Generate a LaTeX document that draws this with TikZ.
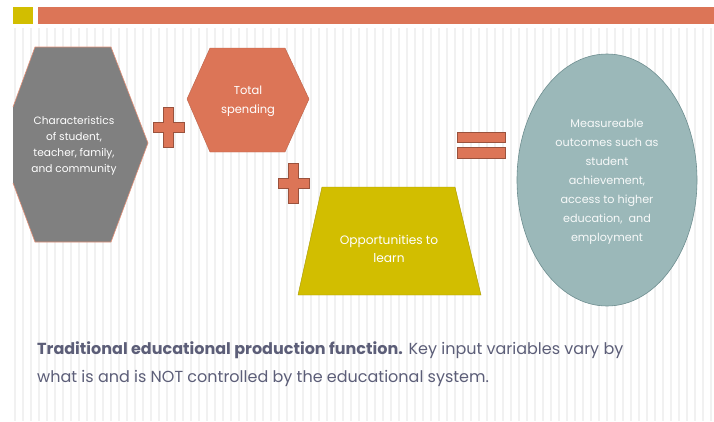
\documentclass[tikz,border=0pt]{standalone}
\usepackage{fontspec}
\setmainfont{Poppins}
\definecolor{barorange}{HTML}{DC7557}
\definecolor{baryellow}{HTML}{D2BE00}
\definecolor{hexgray}{HTML}{808080}
\definecolor{ovalteal}{HTML}{9BB8B9}
\definecolor{ovalline}{HTML}{6E8E90}
\definecolor{captext}{HTML}{5C5E78}
\definecolor{stripe}{HTML}{F1F1F1}
\tikzset{shapetext/.style={text=white, align=center, font=\fontsize{10.6}{15.8}\selectfont, inner sep=0pt}}
\begin{document}
\begin{tikzpicture}[x=1pt,y=-1pt]
\useasboundingbox (0,0) rectangle (714,421);
\fill[white] (0,0) rectangle (714,421);
\foreach \x in {15,23,...,711} \draw[color=stripe,line width=1.2pt](\x,28) -- (\x,421);
% title bar
\fill[baryellow] (13,7) rectangle (33,24);
\fill[barorange] (38,7) rectangle (714,24);
% input shapes
\filldraw[fill=hexgray,draw=barorange!80,line width=0.6pt] (13,107) -- (35,47) -- (111,47) -- (148,143) -- (111,242) -- (35,242) -- (13,183);
\node[shapetext] (chars) at (74,146) {Characteristics\\of student,\\teacher, family,\\and community};
\filldraw[fill=barorange,draw=barorange!85!black,line width=0.4pt] (187,99) -- (210,48) -- (285,48) -- (309,99) -- (285,152) -- (210,152) -- cycle;
\node[shapetext,font=\fontsize{11.5}{19}\selectfont] (spend) at (248,101) {Total\\spending};
\filldraw[fill=baryellow,draw=baryellow!80!black,line width=0.4pt] (322,187) -- (455,187) -- (481,295) -- (298,295) -- cycle;
\node[shapetext,font=\fontsize{12.2}{18}\selectfont] (learn) at (389,249) {Opportunities to\\learn};
% plus signs
\foreach \cx/\cy in {168/127,293/183}
  \filldraw[fill=barorange,draw=barorange!70!black,line width=0.4pt]
    (\cx-5,\cy-20) -- (\cx+5,\cy-20) -- (\cx+5,\cy-5) -- (\cx+16,\cy-5) -- (\cx+16,\cy+5) -- (\cx+5,\cy+5)
    -- (\cx+5,\cy+20) -- (\cx-5,\cy+20) -- (\cx-5,\cy+5) -- (\cx-15,\cy+5) -- (\cx-15,\cy-5) -- (\cx-5,\cy-5) -- cycle;
% equals sign
\filldraw[fill=barorange,draw=barorange!70!black,line width=0.4pt] (457,132) rectangle (505,142);
\filldraw[fill=barorange,draw=barorange!70!black,line width=0.4pt] (457,147) rectangle (505,158);
% outcome
\filldraw[fill=ovalteal,draw=ovalline,line width=0.6pt] (607,180) ellipse (90 and 126);
\node[shapetext,text=white!92!ovalteal,font=\fontsize{11.2}{19}\selectfont] (outcome) at (607,182) {Measureable\\outcomes such as\\student\\achievement,\\access to higher\\education,~ and\\employment};
% caption
\node[anchor=north west,align=left,text=captext,inner sep=0pt,font=\fontsize{16}{28}\selectfont] (caption) at (37,341)
  {\textbf{Traditional educational production function.} Key input variables vary by\\what is and is NOT controlled by the educational system.};
\end{tikzpicture}
\end{document}
